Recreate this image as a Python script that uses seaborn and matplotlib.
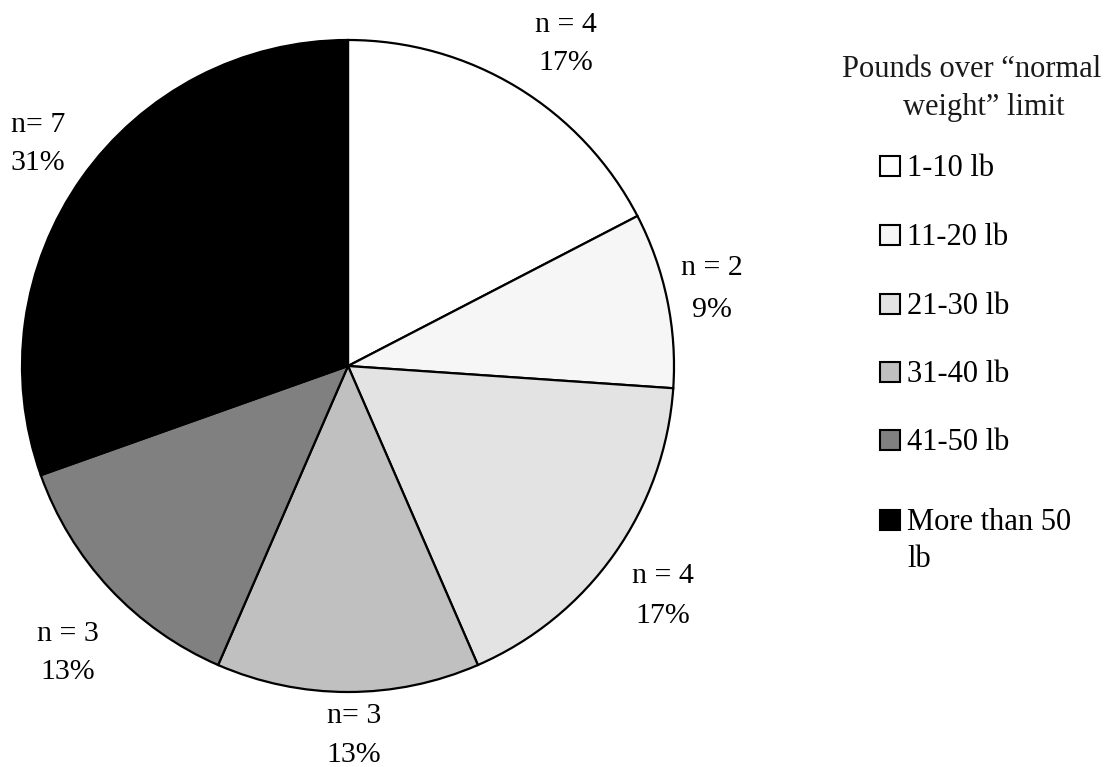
import matplotlib
matplotlib.use("Agg")
import matplotlib.pyplot as plt
import seaborn as sns
from matplotlib.patches import Rectangle

# data
categories = ["1-10 lb", "11-20 lb", "21-30 lb", "31-40 lb", "41-50 lb", "More than 50\nlb"]
counts = [4, 2, 4, 3, 3, 7]
pct_labels = ["17%", "9%", "17%", "13%", "13%", "31%"]
n_labels = ["n = 4", "n = 2", "n = 4", "n= 3", "n = 3", "n= 7"]
legend_title = ["Pounds over \u201cnormal", "weight\u201d limit"]

colors = ["#ffffff", "#f6f6f6", "#e3e3e3", "#c0c0c0", "#808080", "#000000"]

sns.set_theme(style="white")
plt.rcParams["font.family"] = ["Liberation Serif", "DejaVu Serif"]

W, H = 1115, 767
fig = plt.figure(figsize=(W / 100, H / 100), dpi=100)


def px(x, y):
    # top-left pixel position -> figure fraction
    return x / W, 1 - y / H


# pie centre (348, 366) px, radius 326 px
cx, cy, r = 348, 366, 326
ax = fig.add_axes([(cx - r) / W, (H - cy - r) / H, 2 * r / W, 2 * r / H])
wedges, _ = ax.pie(counts, colors=colors, startangle=90, counterclock=False,
                   wedgeprops=dict(edgecolor="black", linewidth=1.6))
for w in wedges:
    w.set_clip_on(False)
ax.set_xlim(-1, 1)
ax.set_ylim(-1, 1)
ax.set_aspect("auto")
ax.axis("off")

# slice labels: x centre and the two baselines, in pixels
label_x = [566, 712, 663, 354, 68, 38]
label_y = [(32, 70), (275, 317), (583, 623), (723, 762), (641, 679), (132, 170)]
for x, (y1, y2), n, p in zip(label_x, label_y, n_labels, pct_labels):
    fig.text(*px(x, y1), n, ha="center", va="baseline", fontsize=21.5, color="black")
    fig.text(*px(x, y2), p, ha="center", va="baseline", fontsize=21.5, color="black")

# legend title
fig.text(*px(972, 77), legend_title[0], ha="center", va="baseline", fontsize=22, color="#1a1a1a")
fig.text(*px(984, 115), legend_title[1], ha="center", va="baseline", fontsize=22, color="#1a1a1a")

# legend entries (first-line baselines)
entry_base = [176, 245, 314, 382, 450, 530]
for b, lab, c in zip(entry_base, categories, colors):
    x0, y0 = px(880, b)
    fig.patches.append(Rectangle((x0, y0), 20 / W, 20 / H, transform=fig.transFigure,
                                 facecolor=c, edgecolor="black", linewidth=1.5))
    for k, line in enumerate(lab.split("\n")):
        fig.text(*px(907, b + 37 * k), line, ha="left", va="baseline", fontsize=22, color="black")

fig.savefig("out.png", dpi=100, facecolor="white")
